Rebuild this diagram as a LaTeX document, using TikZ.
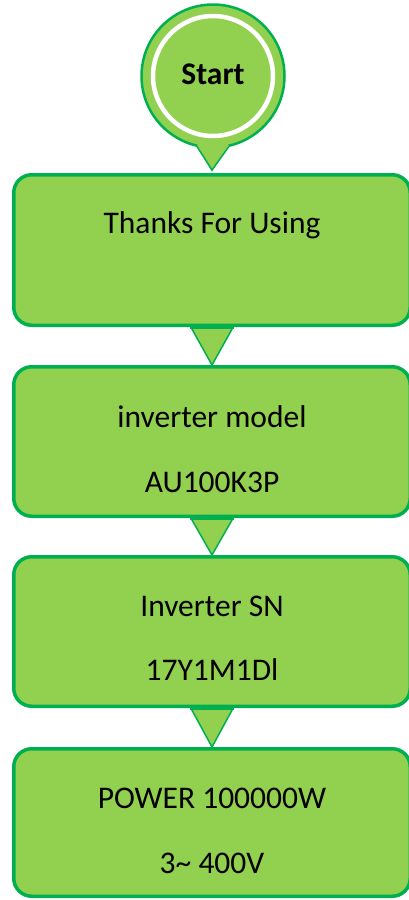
\documentclass[tikz,border=0pt]{standalone}
\usepackage{fontspec}
\setmainfont{Carlito}
\usetikzlibrary{calc}
\definecolor{lgreen}{HTML}{92D050}
\definecolor{dgreen}{HTML}{00B050}
\tikzset{
  box/.style={draw=dgreen, fill=lgreen, line width=3.5pt, rounded corners=18pt,
    minimum width=396.5pt, inner sep=0pt},
  tri/.style={draw=dgreen, fill=lgreen, line width=1.5pt, line join=miter},
  topbar/.style={draw=dgreen, line width=3.5pt},
  txt/.style={anchor=base, font=\fontsize{31.5}{38}\selectfont, inner sep=0pt},
}
\begin{document}
\begin{tikzpicture}[x=1pt,y=-1pt]
\useasboundingbox (0,0) rectangle (408,900);
% boxes
\node[box, minimum height=150.5pt] (b1) at (212,250) {};
\node[box, minimum height=149.5pt] (b2) at (212,441.5) {};
\node[box, minimum height=149.5pt] (b3) at (212,631.5) {};
\node[box, minimum height=147.5pt] (b4) at (212,822.5) {};
% start shape
\coordinate (sc) at (213,76);
\coordinate (stip) at (212,170);
\draw[tri] (194,140) -- (stip) -- (232,140);
\filldraw[draw=dgreen, fill=lgreen, line width=2.5pt] (sc) circle (71.5);
\fill[lgreen] (194,138) -- (stip) -- (232,138) -- cycle;
\draw[tri] (196,145) -- (stip) -- (230,145);
\draw[white, line width=4.5pt] (sc) circle (60);
\node[anchor=base, font=\fontsize{31.5}{38}\selectfont\bfseries, inner sep=0pt] (st) at (213,84) {Start};
% triangles between boxes
\foreach \a/\b in {b1/b2, b2/b3, b3/b4}{
  \filldraw[tri] ($(\a.south)+(-22,-1.5)$) -- ($(\a.south)+(22,-1.5)$) -- (\b.north) -- cycle;
  \draw[topbar] ($(\a.south)+(-22,0)$) -- ($(\a.south)+(22,0)$);
}
% texts
\node[txt] (t1) at (212,233) {Thanks For Using};
\node[txt] (t2a) at (212,427) {inverter model};
\node[txt] (t2b) at (212,492) {AU100K3P};
\node[txt] (t3a) at (212,616) {Inverter SN};
\node[txt] (t3b) at (212,680) {17Y1M1Dl};
\node[txt] (t4a) at (212,808) {POWER 100000W};
\node[txt] (t4b) at (212,873) {3\char`~{} 400V};
\end{tikzpicture}
\end{document}
